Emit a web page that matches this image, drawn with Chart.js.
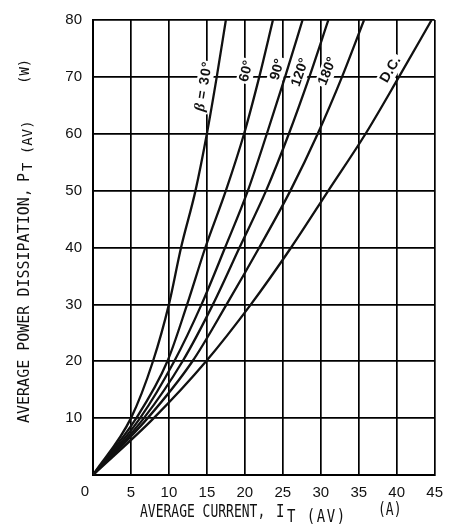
<!DOCTYPE html>
<html>
<head>
<meta charset="utf-8">
<script src="https://cdn.jsdelivr.net/npm/chart.js@4.4.1/dist/chart.umd.min.js"></script>
<style>
  body { margin: 0; background: #fff; }
  canvas { display: block; }
</style>
</head>
<body>
<canvas id="chart" width="452" height="530"></canvas>
<script>
// average power (W) at which each curve was read
const powerLevels = [0, 10, 20, 30, 40, 50, 60, 70, 80];

// average current (A) at those power levels
const currentB30 = [0, 5.0, 7.9, 10.0, 11.6, 13.5, 15.0, 16.3, 17.5];
const currentB60 = [0, 5.7, 9.8, 12.4, 14.8, 17.5, 19.9, 21.9, 23.7];
const currentB90 = [0, 6.2, 10.7, 14.3, 17.4, 20.4, 22.9, 25.3, 27.6];
const currentB120 = [0, 6.7, 11.8, 15.8, 19.3, 22.8, 25.8, 28.5, 31.0];
const currentB180 = [0, 7.2, 13.1, 17.6, 21.9, 26.0, 29.6, 32.8, 35.7];
const currentDC = [0, 8.0, 14.9, 20.8, 26.1, 31.0, 35.9, 40.3, 44.6];

const curveNames = ['30°', '60°', '90°', '120°', '180°', 'D.C.'];
const curveCurrents = [currentB30, currentB60, currentB90, currentB120, currentB180, currentDC];

const xTickValues = [0, 5, 10, 15, 20, 25, 30, 35, 40, 45];
const yTickValues = [0, 10, 20, 30, 40, 50, 60, 70, 80];

const INK = '#111';

// where each curve tag sits (data coords) and how it is turned
const tagSpots = [
  { i: 14.6, p: 68.2, rot: -81 },
  { i: 20.2, p: 71.0, rot: -76 },
  { i: 24.3, p: 71.3, rot: -74 },
  { i: 27.3, p: 70.8, rot: -71 },
  { i: 30.9, p: 71.0, rot: -68 },
  { i: 39.2, p: 71.3, rot: -60 }
];

const datasets = curveCurrents.map((cur, k) => ({
  label: curveNames[k],
  data: cur.map((c, j) => ({ x: c, y: powerLevels[j] })),
  showLine: true,
  borderColor: INK,
  borderWidth: 2.3,
  pointRadius: 0,
  cubicInterpolationMode: 'monotone'
}));

const tagPlugin = {
  id: 'curveTags',
  beforeDatasetsDraw(chart) {
    const { ctx, scales: { x, y } } = chart;
    curveNames.forEach((name, k) => {
      const s = tagSpots[k];
      const px = x.getPixelForValue(s.i);
      const py = y.getPixelForValue(s.p);
      ctx.save();
      ctx.translate(px, py);
      ctx.rotate(s.rot * Math.PI / 180);
      ctx.textBaseline = 'middle';
      if (k === 0) {
        ctx.font = 'italic bold 15px "Liberation Serif"';
        const wb = ctx.measureText('β').width;
        ctx.font = 'bold 14px "Liberation Sans"';
        const rest = ' = ' + name;
        const wr = ctx.measureText(rest).width + 4;
        const w = wb + wr;
        ctx.fillStyle = '#fff';
        ctx.fillRect(-w / 2 - 2, -8, w + 4, 16);
        ctx.fillStyle = INK;
        ctx.font = 'italic bold 15px "Liberation Serif"';
        ctx.fillText('β', -w / 2, 0);
        ctx.font = 'bold 14px "Liberation Sans"';
        ctx.letterSpacing = '1px';
        ctx.fillText(rest, -w / 2 + wb, 0);
      } else {
        ctx.font = 'bold 14px "Liberation Sans"';
        const w = ctx.measureText(name).width;
        ctx.fillStyle = '#fff';
        ctx.fillRect(-w / 2 - 2, -8, w + 4, 16);
        ctx.fillStyle = INK;
        ctx.fillText(name, -w / 2, 0);
      }
      ctx.restore();
    });
  },
  afterDraw(chart) {
    const { ctx, chartArea } = chart;
    ctx.save();
    ctx.fillStyle = INK;

    // lone "0" at the corner
    ctx.font = '15px "Liberation Sans"';
    ctx.textAlign = 'center';
    ctx.textBaseline = 'middle';
    ctx.fillText('0', chartArea.left - 8, 492);
    ctx.textAlign = 'left';
    ctx.textBaseline = 'alphabetic';

    // x title
    const stretch = (txt, font, px, py, sy, gap) => {
      ctx.save();
      ctx.translate(px, py);
      ctx.scale(1, sy);
      ctx.font = font;
      ctx.letterSpacing = gap || '0px';
      ctx.fillText(txt, 0, 0);
      ctx.restore();
    };
    stretch('AVERAGE CURRENT,', '13px "DejaVu Sans Mono"', 140, 517, 1.3);
    stretch('I', '14px "DejaVu Sans Mono"', 276, 517, 1.3);
    stretch('T (AV)', '14px "DejaVu Sans Mono"', 287, 522, 1.2, '1.5px');
    stretch('(A)', '13px "DejaVu Sans Mono"', 378, 515, 1.3);

    // y title, reads bottom to top
    ctx.save();
    ctx.translate(28.5, 0);
    ctx.rotate(-Math.PI / 2);
    ctx.font = '15px "DejaVu Sans Mono"';
    ctx.fillText('AVERAGE POWER DISSIPATION,', -423, 0);
    ctx.fillText('P', -182, 0);
    ctx.font = '14px "DejaVu Sans Mono"';
    ctx.fillText('T (AV)', -171, 3);
    ctx.fillText('(W)', -84, 0);
    ctx.restore();

    ctx.restore();
  }
};

new Chart(document.getElementById('chart'), {
  type: 'scatter',
  data: { datasets },
  options: {
    responsive: false,
    animation: false,
    events: [],
    layout: { padding: { top: 14, right: 12, left: 0, bottom: 0 } },
    plugins: {
      legend: { display: false },
      tooltip: { enabled: false }
    },
    scales: {
      x: {
        type: 'linear',
        min: 0,
        max: 45,
        afterFit(scale) { scale.height = 55; },
        afterBuildTicks(scale) { scale.ticks = xTickValues.map(v => ({ value: v })); },
        grid: { color: '#000', lineWidth: 1.7, drawTicks: false },
        border: { color: '#000', width: 2 },
        ticks: {
          padding: 9,
          color: INK,
          font: { family: '"Liberation Sans"', size: 15 },
          callback: v => (v === 0 ? '' : v)
        }
      },
      y: {
        type: 'linear',
        min: 0,
        max: 80,
        afterFit(scale) { scale.width = 93; },
        afterBuildTicks(scale) { scale.ticks = yTickValues.map(v => ({ value: v })); },
        grid: { color: '#000', lineWidth: 1.7, drawTicks: false },
        border: { color: '#000', width: 2 },
        ticks: {
          padding: 11,
          color: INK,
          font: { family: '"Liberation Sans"', size: 15 },
          callback: v => (v === 0 ? '' : v)
        }
      }
    }
  },
  plugins: [tagPlugin]
});
</script>
</body>
</html>
